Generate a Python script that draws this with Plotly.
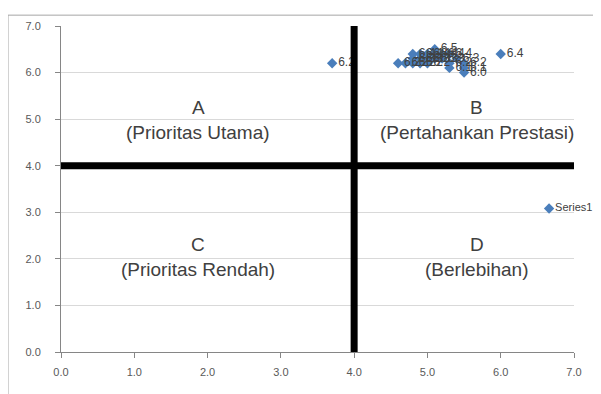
import plotly.graph_objects as go

# Data points (x = performance, y = importance)
x_vals = [3.7, 4.6, 4.7, 4.8, 4.9, 4.8, 4.8, 4.9, 4.9, 5.0, 5.0, 5.0, 5.1, 5.1, 5.1,
          5.2, 5.2, 5.3, 5.3, 5.3, 5.4, 5.5, 5.5, 5.5, 6.0, 6.66]
y_vals = [6.2, 6.2, 6.2, 6.2, 6.2, 6.3, 6.4, 6.3, 6.4, 6.3, 6.4, 6.2, 6.5, 6.4, 6.3,
          6.4, 6.3, 6.4, 6.2, 6.1, 6.3, 6.2, 6.1, 6.0, 6.4, 3.08]
point_labels = [f"{v:.1f}" for v in y_vals[:-1]] + ["Series1"]

# Quadrant divider values
x_split = 4.0
y_split = 4.0
axis_min, axis_max = 0.0, 7.0

# Quadrant annotations
quad_letters = ["A", "B", "C", "D"]
quad_names = ["(Prioritas Utama)", "(Pertahankan Prestasi)", "(Prioritas Rendah)", "(Berlebihan)"]
quad_x = [1.87, 5.67, 1.87, 5.67]
quad_y_letter = [5.25, 5.25, 2.31, 2.31]
quad_y_name = [4.71, 4.71, 1.78, 1.78]

tick_vals = [0, 1, 2, 3, 4, 5, 6, 7]
tick_text = [f"{v:.1f}" for v in tick_vals]

label_sizes = [12] * (len(point_labels) - 1) + [11]

fig = go.Figure()

fig.add_trace(go.Scatter(
    x=x_vals, y=y_vals, mode="markers+text",
    text=point_labels, textposition="middle right",
    textfont=dict(family="Liberation Sans", size=label_sizes, color="#404040"),
    marker=dict(symbol="diamond", size=8, color="#4a7ebb"),
    showlegend=False, cliponaxis=False,
))

fig.add_trace(go.Scatter(
    x=[x_split, x_split], y=[axis_min, axis_max], mode="lines",
    line=dict(color="black", width=7), showlegend=False, hoverinfo="skip",
))
fig.add_trace(go.Scatter(
    x=[axis_min, axis_max], y=[y_split, y_split], mode="lines",
    line=dict(color="black", width=7), showlegend=False, hoverinfo="skip",
))

for i in range(4):
    fig.add_annotation(x=quad_x[i], y=quad_y_letter[i], text=quad_letters[i],
                       showarrow=False, font=dict(family="Liberation Sans", size=19, color="#404040"))
    fig.add_annotation(x=quad_x[i], y=quad_y_name[i], text=quad_names[i],
                       showarrow=False, font=dict(family="Liberation Sans", size=19, color="#404040"))

# Outer chart frame (left and top edges visible)
fig.add_shape(type="line", xref="paper", yref="paper", x0=-0.1033, x1=-0.1033, y0=-0.2, y1=1.0333,
              line=dict(color="#a6a6a6", width=1))
fig.add_shape(type="line", xref="paper", yref="paper", x0=-0.1033, x1=1.1, y0=1.0333, y1=1.0333,
              line=dict(color="#a6a6a6", width=1))

fig.update_layout(
    width=593, height=386,
    margin=dict(l=53, r=27, t=14, b=42),
    paper_bgcolor="white", plot_bgcolor="white",
    font=dict(family="Liberation Sans", size=11, color="#595959"),
    xaxis=dict(range=[axis_min, axis_max], tickvals=tick_vals, ticktext=tick_text,
               showgrid=False, zeroline=False, showline=True, linecolor="#868686", linewidth=1,
               ticks="outside", ticklen=5, tickcolor="#868686", fixedrange=True,
               ticklabelstandoff=5),
    yaxis=dict(range=[axis_min, axis_max], tickvals=tick_vals, ticktext=tick_text,
               showgrid=True, gridcolor="#d9d9d9", gridwidth=1, zeroline=False,
               showline=True, linecolor="#868686", linewidth=1,
               ticks="outside", ticklen=5, tickcolor="#868686", fixedrange=True,
               ticklabelstandoff=12),
)

fig.write_html("out.html")
